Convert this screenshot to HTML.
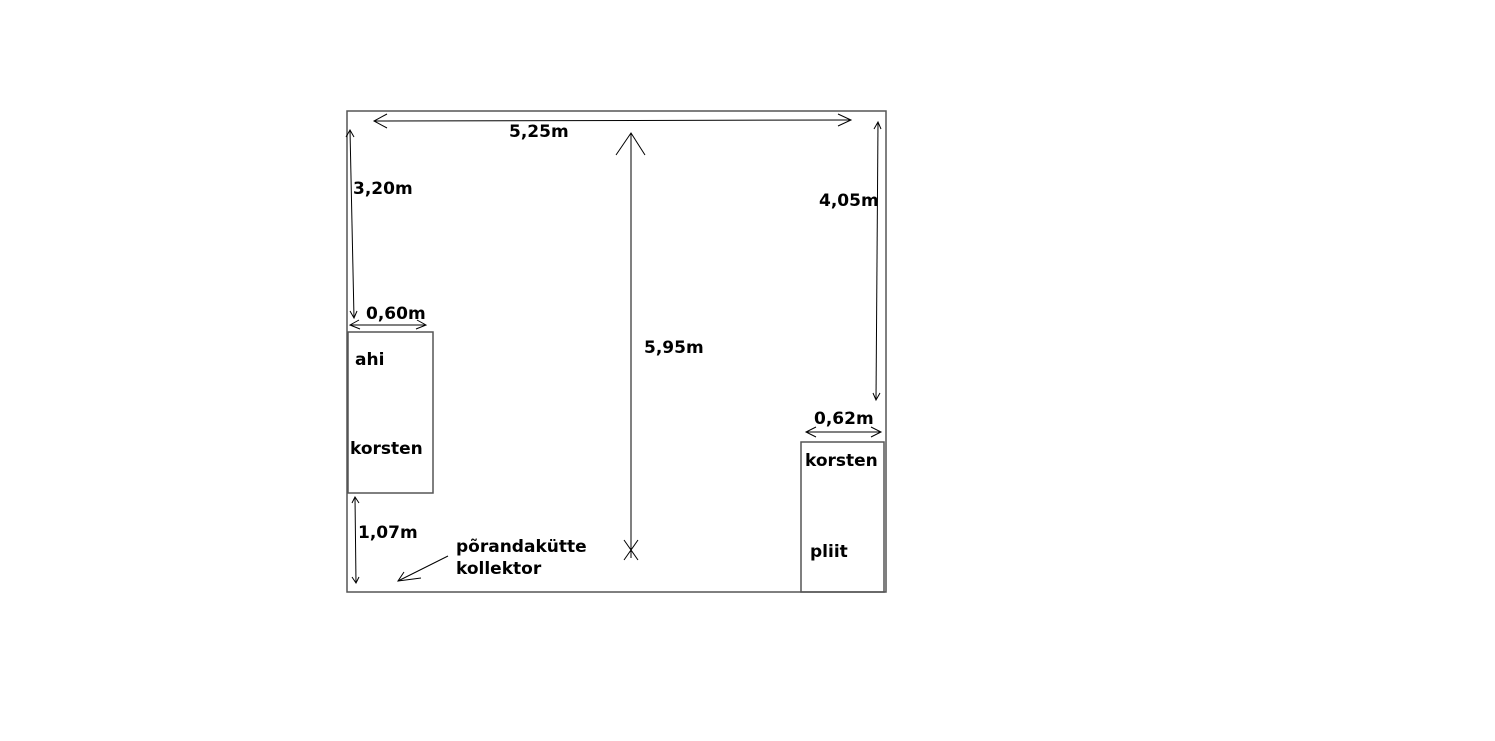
<!DOCTYPE html>
<html><head><meta charset="utf-8"><style>
html,body{margin:0;padding:0;background:#fff;}
svg{display:block}
text{font-family:"DejaVu Sans","Liberation Sans",sans-serif;font-weight:bold;font-size:17px;fill:#000}
</style></head><body>
<svg width="1495" height="741" viewBox="0 0 1495 741" xmlns="http://www.w3.org/2000/svg">
<g fill="none" stroke="#555" stroke-width="1.5">
<rect x="347" y="111" width="539" height="481"/>
<rect x="348" y="332" width="85" height="161"/>
<rect x="801" y="442" width="83" height="150"/>
</g>
<g fill="none" stroke="#000" stroke-width="1">
<line x1="374" y1="121" x2="851" y2="120"/>
<polyline points="387,114 374,121 387,128"/>
<polyline points="838,114 851,120 838,126"/>
<line x1="631" y1="133" x2="631" y2="558"/>
<polyline points="616,155 631,133 645,155"/>
<line x1="624" y1="540" x2="638" y2="560"/>
<line x1="638" y1="540" x2="624" y2="560"/>
<line x1="350" y1="130" x2="354" y2="318"/>
<polyline points="346,137 350,130 354,137"/>
<polyline points="350,311 354,318 357,311"/>
<line x1="350" y1="325" x2="426" y2="325"/>
<polyline points="359,320 350,325 360,329"/>
<polyline points="417,320 426,325 416,329"/>
<line x1="878" y1="122" x2="876" y2="400"/>
<polyline points="874,129 878,122 881,129"/>
<polyline points="873,393 876,400 880,393"/>
<line x1="806" y1="432" x2="881" y2="432"/>
<polyline points="816,427 806,432 816,437"/>
<polyline points="871,427 881,432 871,437"/>
<line x1="355" y1="497" x2="356" y2="583"/>
<polyline points="352,503 355,497 359,503"/>
<polyline points="352,577 356,583 359,577"/>
<line x1="448" y1="556" x2="398" y2="581"/>
<polyline points="404,572 398,581 421,578"/>
</g>
<text x="509" y="137">5,25m</text>
<text x="353" y="194">3,20m</text>
<text x="366" y="319">0,60m</text>
<text x="355" y="365">ahi</text>
<text x="350" y="454">korsten</text>
<text x="644" y="353">5,95m</text>
<text x="819" y="206">4,05m</text>
<text x="814" y="424">0,62m</text>
<text x="805" y="466">korsten</text>
<text x="810" y="557">pliit</text>
<text x="358" y="538">1,07m</text>
<text x="456" y="552">põrandakütte</text>
<text x="456" y="574">kollektor</text>
</svg>
</body></html>
